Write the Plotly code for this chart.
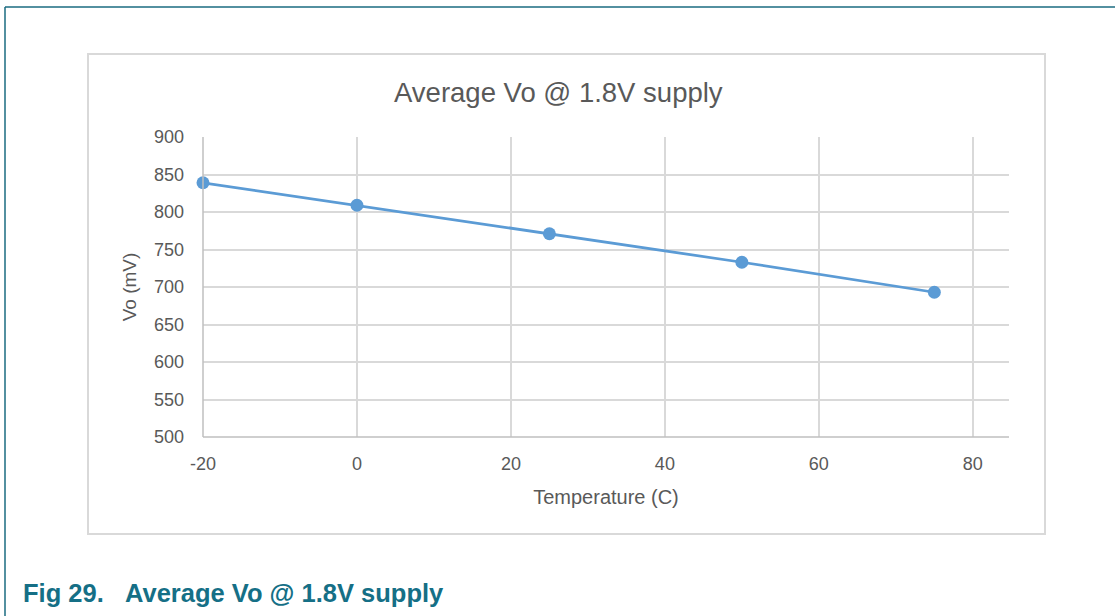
import plotly.graph_objects as go

temperature = [-20, 0, 25, 50, 75]
vo_mv = [839, 809, 771, 733, 693]

x_ticks = [-20, 0, 20, 40, 60, 80]
y_ticks = [500, 550, 600, 650, 700, 750, 800, 850, 900]

W, H = 1115, 616
L, R, T, B = 203, 1009, 137, 437
PW, PH = R - L, B - T


def px(x):
    return (x - L) / PW


def py(y):
    return (B - y) / PH


fig = go.Figure()
fig.add_trace(go.Scatter(
    x=temperature, y=vo_mv, mode="lines+markers",
    line=dict(color="#5b9bd5", width=2.75),
    marker=dict(color="#5b9bd5", size=13),
    showlegend=False, cliponaxis=False,
))

font_family = "Liberation Sans, Arial, sans-serif"
fig.update_layout(
    width=W, height=H,
    margin=dict(l=L, r=W - R, t=T, b=H - B, pad=0),
    paper_bgcolor="white", plot_bgcolor="white",
    font=dict(family=font_family, color="#595959"),
    xaxis=dict(
        range=[-20, 84.7], tickvals=x_ticks, ticktext=[str(v) for v in x_ticks],
        showgrid=True, gridcolor="#d9d9d9", gridwidth=1.5,
        zeroline=False, showline=False, ticks="", ticklabelstandoff=14,
        tickfont=dict(size=18, color="#595959"),
        title=dict(text="Temperature (C)", font=dict(size=20, color="#595959"), standoff=16),
    ),
    yaxis=dict(
        range=[500, 900], tickvals=y_ticks,
        showgrid=True, gridcolor="#d9d9d9", gridwidth=1.5,
        zeroline=False, showline=False, ticks="", ticklabelstandoff=18,
        tickfont=dict(size=18, color="#595959"),
        title=dict(text="Vo (mV)", font=dict(size=19, color="#595959"), standoff=12),
    ),
    shapes=[
        # outer frame lines
        dict(type="line", xref="paper", yref="paper", x0=px(5), x1=px(W + 5),
             y0=py(7), y1=py(7), line=dict(color="#1a6b80", width=1.5)),
        dict(type="line", xref="paper", yref="paper", x0=px(5), x1=px(5),
             y0=py(7), y1=py(H + 5), line=dict(color="#1a6b80", width=1.5)),
        # inner chart box
        dict(type="rect", xref="paper", yref="paper",
             x0=px(88), x1=px(1045), y0=py(534), y1=py(54),
             line=dict(color="#d9d9d9", width=2), layer="below"),
        # axis lines
        dict(type="line", xref="paper", yref="paper", x0=0, x1=1, y0=0, y1=0,
             line=dict(color="#bfbfbf", width=1.5)),
        dict(type="line", xref="paper", yref="paper", x0=0, x1=0, y0=0, y1=1,
             line=dict(color="#bfbfbf", width=1.5)),
    ],
    annotations=[
        dict(text="Average Vo @ 1.8V supply", xref="paper", yref="paper",
             x=px(558), y=py(92), xanchor="center", yanchor="middle",
             showarrow=False, font=dict(size=27.5, color="#595959", family=font_family)),
        dict(text="<b>Fig 29.&nbsp;&nbsp;&nbsp;Average Vo @ 1.8V supply</b>", xref="paper", yref="paper",
             x=px(21), y=py(593), xanchor="left", yanchor="middle",
             showarrow=False, font=dict(size=25.5, color="#156f86", family=font_family)),
    ],
)

fig.write_html("out.html", config={"displayModeBar": False},
               post_script="document.body.style.margin='0';document.body.style.padding='0';")
